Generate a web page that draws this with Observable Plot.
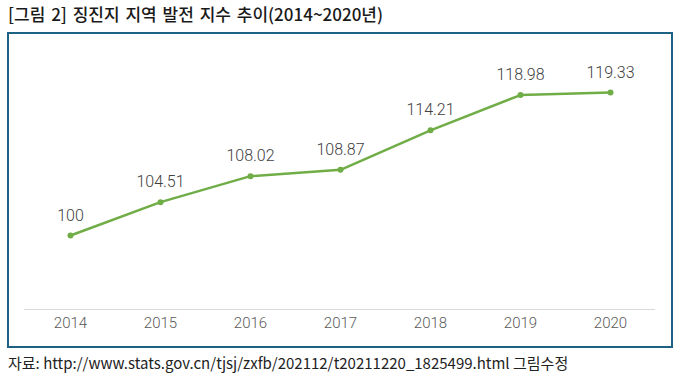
<!DOCTYPE html>
<html>
<head>
<meta charset="utf-8">
<script src="https://cdn.jsdelivr.net/npm/d3@7"></script>
<script src="https://cdn.jsdelivr.net/npm/@observablehq/plot@0.6"></script>
<style>
  html, body { margin: 0; padding: 0; background: #fff; }
  #wrap { position: relative; width: 677px; height: 375px; overflow: hidden; }
  #title { position: absolute; left: 8px; top: 3px; font-family: "Noto Sans CJK KR", sans-serif; font-size: 17px; font-weight: 500; color: #1a1a1a; white-space: nowrap; line-height: 22px; word-spacing: 2px; }
  #box { position: absolute; left: 7px; top: 32px; width: 666px; height: 316px; box-sizing: border-box; border: 2px solid #1d6184; }
  #chart { position: absolute; left: 0; top: 33px; }
  #caption { position: absolute; left: 8px; top: 353px; font-family: "Noto Sans CJK KR", sans-serif; font-size: 15px; color: #222; white-space: nowrap; line-height: 20px; }
</style>
</head>
<body>
<div id="wrap">
  <div id="title">[그림 2] 징진지 지역 발전 지수 추이(2014~2020년)</div>
  <div id="box"></div>
  <div id="chart"></div>
  <div id="caption">자료: http://www.stats.gov.cn/tjsj/zxfb/202112/t20211220_1825499.html 그림수정</div>
</div>
<script>
const years = ["2014", "2015", "2016", "2017", "2018", "2019", "2020"];
const values = [100, 104.51, 108.02, 108.87, 114.21, 118.98, 119.33];
const valueLabels = ["100", "104.51", "108.02", "108.87", "114.21", "118.98", "119.33"];

const data = years.map((y, i) => ({year: y, value: values[i], label: valueLabels[i]}));

const chart = Plot.plot({
  width: 677,
  height: 314,
  marginLeft: 24,
  marginRight: 22,
  marginTop: 17,
  marginBottom: 38,
  style: {fontFamily: "Roboto, sans-serif", fontSize: "15px", background: "transparent"},
  x: {type: "point", domain: years, padding: 0.5, label: null},
  y: {domain: [90, 125], axis: null},
  marks: [
    Plot.ruleY([90], {stroke: "#d9d9d9", strokeWidth: 1}),
    Plot.axisX({tickSize: 0, tickPadding: 8, fill: "#595959", fontSize: 15, fontWeight: 300, label: null}),
    Plot.line(data, {x: "year", y: "value", stroke: "#70ad47", strokeWidth: 2.5}),
    Plot.dot(data, {x: "year", y: "value", r: 3, fill: "#70ad47"}),
    Plot.text(data, {x: "year", y: "value", text: "label", dy: -20, fill: "#404040", fontSize: 16, fontWeight: 300})
  ]
});
document.getElementById("chart").appendChild(chart);
</script>
</body>
</html>
